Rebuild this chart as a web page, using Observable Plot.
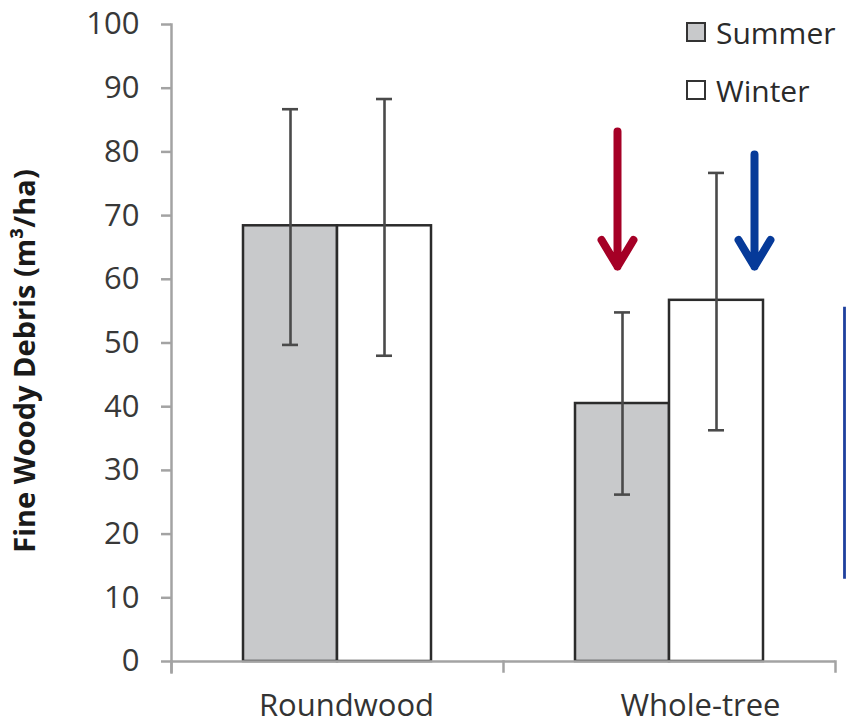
<!DOCTYPE html>
<html>
<head>
<meta charset="utf-8">
<script src="https://cdn.jsdelivr.net/npm/d3@7"></script>
<script src="https://cdn.jsdelivr.net/npm/@observablehq/plot@0.6"></script>
<style>
  html, body { margin: 0; padding: 0; background: #fff; }
  #wrap { position: relative; width: 846px; height: 724px; }
  .legend { position: absolute; left: 686px; top: 13px; font-family: "Open Sans", sans-serif; font-size: 30px; color: #2a2a2a; }
  .legend .row { display: flex; align-items: center; height: 38px; margin-bottom: 20px; }
  .legend .sw { width: 16px; height: 16px; border: 2.5px solid #333; margin-right: 10px; box-sizing: content-box; }
</style>
</head>
<body>
<div id="wrap"></div>
<script>
// ---- data ----
const groups = ["Roundwood", "Whole-tree"];
const seasons = ["Summer", "Winter"];
const summerMean = [68.4, 40.5];
const winterMean = [68.4, 56.7];
const summerLow = [49.7, 26.2];
const summerHigh = [86.7, 54.8];
const winterLow = [48.0, 36.3];
const winterHigh = [88.3, 76.7];
const yTicks = [0, 10, 20, 30, 40, 50, 60, 70, 80, 90, 100];
const yTitle = "Fine Woody Debris (m³/ha)";
// annotation arrows (value units)
const arrowGroups = ["Whole-tree", "Whole-tree"];
const arrowSeasons = ["Summer", "Winter"];
const arrowTop = [83.2, 79.6];
const arrowTip = [62.0, 62.0];
// bracket at right edge
const bracketTop = [55.6];
const bracketBottom = [12.9];

const seasonFill = {Summer: "#c8c9cb", Winter: "#ffffff"};

const rows = [];
groups.forEach((g, i) => {
  rows.push({group: g, season: "Summer", value: summerMean[i], lo: summerLow[i], hi: summerHigh[i]});
  rows.push({group: g, season: "Winter", value: winterMean[i], lo: winterLow[i], hi: winterHigh[i]});
});
const arrows = arrowGroups.map((g, i) => ({group: g, season: arrowSeasons[i], top: arrowTop[i], tip: arrowTip[i]}));
const bracket = [{group: "Whole-tree", season: "Winter", top: bracketTop[0], bottom: bracketBottom[0]}];

const axisColor = "#a3a3a3";

const plot = Plot.plot({
  width: 846,
  height: 724,
  marginLeft: 171,
  marginRight: 11,
  marginTop: 24,
  marginBottom: 63,
  style: {fontFamily: "Open Sans, sans-serif", fontSize: "31px", color: "#333", background: "#fff"},
  fx: {domain: groups, padding: 0, axis: null, label: null},
  x: {domain: seasons, paddingInner: 0, paddingOuter: 0.757, axis: null},
  y: {domain: [0, 100], axis: null},
  marks: [
    Plot.frame({anchor: "left", facetAnchor: "left", stroke: axisColor, strokeWidth: 2.5, insetBottom: -11}),
    Plot.frame({anchor: "left", stroke: axisColor, strokeWidth: 2.5, insetTop: 637, insetBottom: -10}),
    Plot.frame({anchor: "right", facetAnchor: "right", stroke: axisColor, strokeWidth: 2.5, insetTop: 637, insetBottom: -10}),
    Plot.axisY(yTicks, {tickSize: 10, tickPadding: 22, stroke: axisColor, strokeWidth: 2.5, fill: "#383838", label: null}),
    Plot.barY(rows, {fx: "group", x: "season", y: "value", fill: (d) => seasonFill[d.season], stroke: "#2b2b2b", strokeWidth: 2.5}),
    Plot.ruleY([0], {stroke: axisColor, strokeWidth: 2.5}),
    Plot.ruleX(rows, {fx: "group", x: "season", y1: "lo", y2: "hi", stroke: "#4a4a4a", strokeWidth: 2.6}),
    Plot.tickY(rows, {fx: "group", x: "season", y: "lo", stroke: "#4a4a4a", strokeWidth: 2.6, insetLeft: 39, insetRight: 39}),
    Plot.tickY(rows, {fx: "group", x: "season", y: "hi", stroke: "#4a4a4a", strokeWidth: 2.6, insetLeft: 39, insetRight: 39}),
    Plot.arrow(arrows.filter((d) => d.season === "Summer"), {fx: "group", x1: "season", x2: "season", y1: "top", y2: "tip", stroke: "#a50026", strokeWidth: 8, headLength: 5.8, headAngle: 62, dx: -5, strokeLinecap: "round", strokeLinejoin: "round"}),
    Plot.arrow(arrows.filter((d) => d.season === "Winter"), {fx: "group", x1: "season", x2: "season", y1: "top", y2: "tip", stroke: "#063a99", strokeWidth: 8, headLength: 5.8, headAngle: 62, dx: 38, strokeLinecap: "round", strokeLinejoin: "round"}),
    Plot.ruleX(bracket, {fx: "group", x: "season", y1: "top", y2: "bottom", stroke: "#1f409e", strokeWidth: 2.8, dx: 128}),
    Plot.axisFx({ticks: ["Roundwood"], anchor: "bottom", tickSize: 0, tickPadding: 32, dx: 9, label: null, fill: "#333"}),
    Plot.axisFx({ticks: ["Whole-tree"], anchor: "bottom", tickSize: 0, tickPadding: 32, dx: 31, label: null, fill: "#333"}),
    Plot.text([yTitle], {frameAnchor: "left", facetAnchor: "left", textAnchor: "middle", rotate: -90, dx: -146, dy: 18, fontWeight: "bold", fontSize: 29, fill: "#1a1a1a"})
  ]
});

const wrap = document.getElementById("wrap");
wrap.appendChild(plot);

const legend = document.createElement("div");
legend.className = "legend";
seasons.forEach((s) => {
  const row = document.createElement("div");
  row.className = "row";
  const sw = document.createElement("div");
  sw.className = "sw";
  sw.style.background = seasonFill[s];
  const t = document.createElement("span");
  t.textContent = s;
  row.appendChild(sw);
  row.appendChild(t);
  legend.appendChild(row);
});
wrap.appendChild(legend);
</script>
</body>
</html>
